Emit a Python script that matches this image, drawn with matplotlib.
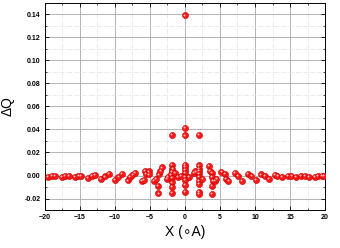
import numpy as np
import matplotlib.pyplot as plt
from matplotlib.ticker import MultipleLocator

# tails
x_left = [-19.6, -19.0, -18.6, -17.6, -17.1, -16.6, -15.7, -15.2, -14.8,
          -13.9, -13.3, -12.8, -12.0, -11.4, -10.9, -10.0, -9.5, -8.95,
          -8.2, -7.8, -7.5, -7.1, -6.2, -5.8, -5.7, -5.6, -5.2, -5.1]
dq_left = [-0.0010, -0.0006, -0.0003, -0.0012, -0.0006, -0.0002, -0.0014, -0.0006, 0.0000,
           -0.0020, -0.0006, 0.0008, -0.0028, -0.0008, 0.0012, -0.0035, -0.0009, 0.0015,
           -0.0043, -0.0015, 0.0005, 0.0026, -0.0044, -0.0040, 0.0042, 0.0015, 0.0035, 0.0010]

# center region
x_mid = [-4.4, -4.1, -3.9, -3.8, -3.7, -3.5, -3.3, -2.6,
         -2.4, -1.9, -1.9, -1.8, -1.9, -2.0, -1.9, -1.9, -1.9, -1.9, -1.4, -1.0,
         0.0, 0.0, 0.0, 0.0, 0.0, 0.0, 0.0, 0.0, 0.0, 0.0, 0.0, -0.6, 0.6,
         2.0, 2.0, 2.0, 2.0, 2.0, 2.0, 2.0, 2.0, 2.0, 2.0, 1.3, 1.5, 2.5,
         3.4, 3.6, 3.8, 3.8, 4.0, 3.8, 3.9, 4.3, 4.5]
dq_mid = [-0.0050, -0.0030, -0.0090, -0.0155, 0.0010, 0.0040, 0.0070, -0.0030,
          -0.0010, 0.0350, 0.0090, 0.0060, 0.0035, 0.0010, -0.0020, -0.0060, -0.0100, -0.0150, 0.0020, -0.0015,
          0.1390, 0.0415, 0.0348, 0.0093, 0.0073, 0.0049, 0.0020, -0.0015, -0.0040, -0.0080, -0.0145, -0.0005, -0.0010,
          0.0350, 0.0087, 0.0060, 0.0040, 0.0015, -0.0015, -0.0045, -0.0070, -0.0145, -0.0160, 0.0020, 0.0035, -0.0030,
          0.0080, 0.0040, 0.0020, -0.0015, -0.0045, -0.0090, -0.0160, -0.0050, -0.0030]

x_right = [5.2, 5.7, 5.8, 6.2, 7.1, 7.6, 8.1, 9.0, 9.5, 10.1,
           10.9, 11.4, 12.0, 12.8, 13.2, 13.9, 14.7, 15.2, 15.8,
           16.6, 17.1, 17.7, 18.5, 19.0, 19.5, 19.8]
dq_right = [0.0030, 0.0015, -0.0030, -0.0045, 0.0025, 0.0000, -0.0045, 0.0015, 0.0000, -0.0038,
            0.0009, 0.0000, -0.0029, 0.0006, 0.0000, -0.0015, 0.0000, 0.0000, -0.0015,
            -0.0006, -0.0006, -0.0009, -0.0009, -0.0006, -0.0003, -0.0001]

x = np.array(x_left + x_mid + x_right)
dq = np.array(dq_left + dq_mid + dq_right)

plt.rcParams['font.family'] = ['Liberation Sans', 'DejaVu Sans']

fig = plt.figure(figsize=(3.4, 2.48), dpi=100)
ax = fig.add_axes([0.132, 0.153, 0.824, 0.836])

# ball-like markers: red body plus a small highlight
ax.plot(x, dq, linestyle='', marker='o', markersize=4.4, markerfacecolor='#f81818',
        markeredgecolor='#c80000', markeredgewidth=0.4, zorder=3)
ax.plot(x - 0.12, dq + 0.0007, linestyle='', marker='o', markersize=1.4,
        markerfacecolor='#ffc0c0', markeredgewidth=0, zorder=4)

ax.set_xlim(-20, 20)
ax.set_ylim(-0.03, 0.15)
ax.xaxis.set_major_locator(MultipleLocator(5))
ax.xaxis.set_minor_locator(MultipleLocator(2.5))
ax.yaxis.set_minor_locator(MultipleLocator(0.01))
yticks = np.arange(-0.02, 0.141, 0.02)
ax.set_yticks(yticks)
ax.set_yticklabels(['%.2f' % v for v in yticks])

ax.grid(True, which='major', color='#a8a8a8', linewidth=0.6, linestyle='-')
ax.grid(True, which='minor', color='#e2e2e2', linewidth=0.5, linestyle='-.')
ax.set_axisbelow(True)

ax.tick_params(which='both', direction='in', top=True, right=True, labelsize=5, pad=3)
ax.tick_params(which='major', length=3, width=0.6)
ax.tick_params(which='minor', length=1.5, width=0.5)
for lab in ax.get_xticklabels() + ax.get_yticklabels():
    lab.set_fontweight('bold')
for s in ax.spines.values():
    s.set_linewidth(0.7)

ax.set_xlabel('X (\u2218A)', fontsize=10, labelpad=3)
ax.set_ylabel('\u0394Q', fontsize=10, labelpad=7)

plt.savefig('out.png', dpi=100)
